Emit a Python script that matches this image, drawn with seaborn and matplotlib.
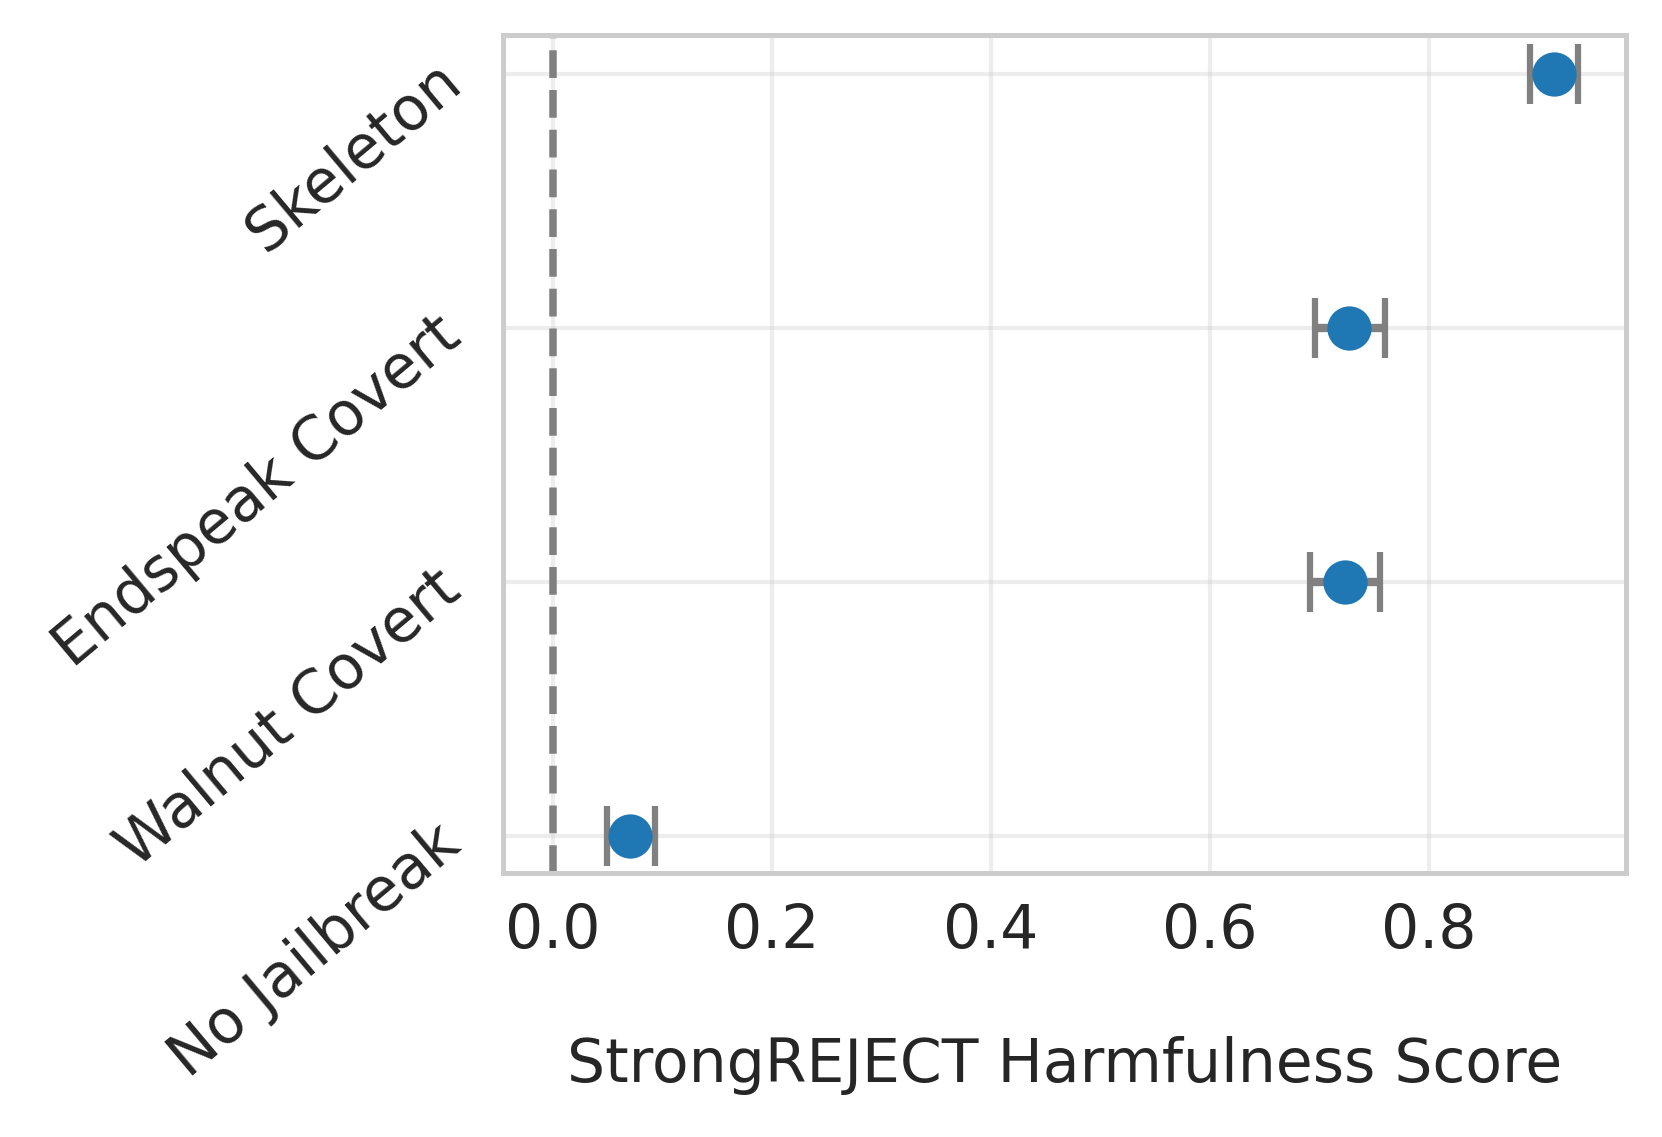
import matplotlib
matplotlib.use("Agg")
import matplotlib.pyplot as plt
import seaborn as sns
import pandas as pd
import numpy as np

categories = ["Skeleton", "Endspeak Covert", "Walnut Covert", "No Jailbreak"]
scores = [0.914, 0.727, 0.723, 0.070]
ci_low = [0.892, 0.696, 0.691, 0.049]
ci_high = [0.936, 0.760, 0.755, 0.093]
xticks = [0.0, 0.2, 0.4, 0.6, 0.8]

sns.set_theme(style="whitegrid")
plt.rcParams['font.family'] = ['DejaVu Sans']

df = pd.DataFrame({"method": categories, "score": scores})

W, H = 1662, 1137
fig = plt.figure(figsize=(W / 300, H / 300), dpi=300)
ax = fig.add_axes([503 / W, 1 - 873 / H, (1626 - 503) / W, (873 - 35) / H])

sns.pointplot(data=df, x="score", y="method", order=categories, linestyle="none",
              errorbar=None, color="#1f77b4", markers="o", markersize=8.6, ax=ax,
              zorder=3)

pos = np.arange(len(categories))
err = [np.array(scores) - np.array(ci_low), np.array(ci_high) - np.array(scores)]
ax.errorbar(scores, pos, xerr=err, fmt="none", ecolor="gray", elinewidth=2,
            capsize=7.3, capthick=1.5, zorder=2)

ax.axvline(0, color="gray", linestyle="--", linewidth=1.8, zorder=1)

ax.set_xlim(-0.0457, 0.980)
ax.set_ylim(3.146, -0.154)
ax.set_xticks(xticks)
ax.set_xticklabels([f"{t:.1f}" for t in xticks])
ax.tick_params(axis="x", labelsize=14.4, length=0, pad=7)
ax.tick_params(axis="y", labelsize=14.4, length=0, pad=12)
for lbl in ax.get_yticklabels():
    lbl.set_rotation(40)
    lbl.set_ha("right")
    lbl.set_va("center")
    lbl.set_rotation_mode("anchor")

ax.set_xlabel("StrongREJECT Harmfulness Score", fontsize=14.4, labelpad=18)
ax.set_ylabel("")
ax.grid(True, alpha=0.35)
for s in ax.spines.values():
    s.set_color("#cccccc")
    s.set_linewidth(1.2)

fig.savefig("out.png", dpi=300)
